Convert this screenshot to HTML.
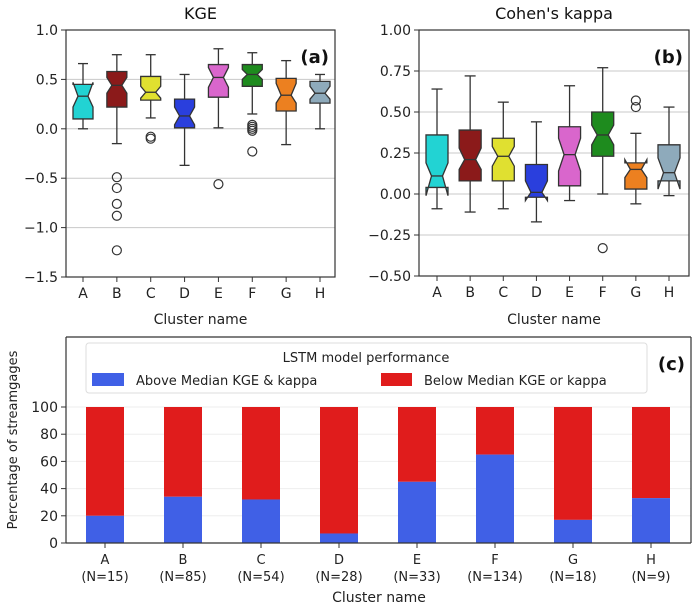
<!DOCTYPE html>
<html><head><meta charset="utf-8">
<style>
body{margin:0;background:#fff;}
svg{display:block;font-family:"DejaVu Sans","Liberation Sans",sans-serif;}
</style></head>
<body>
<svg id="fig" width="692" height="606" viewBox="0 0 692 606" xmlns="http://www.w3.org/2000/svg"></svg>
<script>
const categories = ["A","B","C","D","E","F","G","H"];
const colors = ["#22d3d3","#8b1a1a","#e0e030","#2a3fdd","#d966cc","#1e8b1e","#ec8020","#8eaabb"];
// KGE: [whiskerLow, q1, notchLow, median, notchHigh, q3, whiskerHigh]
const kgeStats = [
 [0.0,0.10,0.22,0.33,0.47,0.45,0.66],
 [-0.15,0.22,0.36,0.44,0.52,0.58,0.75],
 [0.11,0.29,0.31,0.37,0.43,0.53,0.75],
 [-0.37,0.01,0.04,0.13,0.22,0.30,0.55],
 [0.01,0.32,0.42,0.52,0.62,0.65,0.81],
 [0.15,0.43,0.50,0.55,0.60,0.65,0.77],
 [-0.16,0.18,0.26,0.34,0.46,0.51,0.69],
 [0.0,0.26,0.30,0.36,0.43,0.48,0.55]
];
const kgeOutliers = [[],[-0.49,-0.6,-0.76,-0.88,-1.23],[-0.08,-0.1],[],[-0.56],[0.04,0.02,0.0,-0.02,-0.23],[],[]];
const kgeTicks = [1.0,0.5,0.0,-0.5,-1.0,-1.5];
const kgeTickLabels = ["1.0","0.5","0.0","\u22120.5","\u22121.0","\u22121.5"];
const kappaStats = [
 [-0.09,0.04,-0.01,0.11,0.19,0.36,0.64],
 [-0.11,0.08,0.15,0.21,0.28,0.39,0.72],
 [-0.09,0.08,0.17,0.23,0.29,0.34,0.56],
 [-0.17,-0.02,-0.04,0.01,0.08,0.18,0.44],
 [-0.04,0.05,0.14,0.24,0.34,0.41,0.66],
 [0.0,0.23,0.30,0.36,0.42,0.50,0.77],
 [-0.06,0.03,0.10,0.15,0.21,0.19,0.37],
 [-0.01,0.08,0.03,0.13,0.22,0.30,0.53]
];
const kappaOutliers = [[],[],[],[],[],[-0.33],[0.53,0.57],[]];
const kappaTicks = [1.0,0.75,0.5,0.25,0.0,-0.25,-0.5];
const kappaTickLabels = ["1.00","0.75","0.50","0.25","0.00","\u22120.25","\u22120.50"];
const barLabels = ["(N=15)","(N=85)","(N=54)","(N=28)","(N=33)","(N=134)","(N=18)","(N=9)"];
const aboveValues = [20,34,32,7,45,65,17,33];
const pctTicks = [0,20,40,60,80,100];

const NS="http://www.w3.org/2000/svg";
const svg=document.getElementById('fig');
function el(tag,attrs,parent,text){const e=document.createElementNS(NS,tag);for(const k in attrs)e.setAttribute(k,attrs[k]);if(text!==undefined)e.textContent=text;(parent||svg).appendChild(e);return e;}

function boxPanel(cfg){
  const g=el('g',{});
  
  
  const {L,R,T,B,ymin,ymax}=cfg;
  const y=v=>B-(v-ymin)/(ymax-ymin)*(B-T);
  const step=(cfg.xLast-cfg.xFirst)/(categories.length-1);
  const x=i=>cfg.xFirst+i*step;
  cfg.ticks.forEach((t,i)=>{
    const gl=el('line',{x1:L,x2:R,y1:y(t),y2:y(t),stroke:'#c8c8c8','stroke-width':1},g);
    
    
    el('line',{x1:L-5,x2:L,y1:y(t),y2:y(t),stroke:'#333'},g);
    const tl=el('text',{x:L-8,y:y(t)+5,'text-anchor':'end','font-size':14,fill:'#222'},g,cfg.tickLabels[i]);
    
    
  });
  const w=cfg.bw/2;
  cfg.stats.forEach((s,i)=>{
    const cx=x(i);
    const [wl,q1,nl,md,nh,q3,wh]=s;
    el('line',{x1:cx,x2:cx,y1:y(wl),y2:y(q1),stroke:'#333','stroke-width':1.3},g);
    el('line',{x1:cx,x2:cx,y1:y(q3),y2:y(wh),stroke:'#333','stroke-width':1.3},g);
    el('line',{x1:cx-w/2,x2:cx+w/2,y1:y(wl),y2:y(wl),stroke:'#333','stroke-width':1.3},g);
    el('line',{x1:cx-w/2,x2:cx+w/2,y1:y(wh),y2:y(wh),stroke:'#333','stroke-width':1.3},g);
    const pts=[[cx-w,q1],[cx-w,nl],[cx-w/2,md],[cx-w,nh],[cx-w,q3],[cx+w,q3],[cx+w,nh],[cx+w/2,md],[cx+w,nl],[cx+w,q1]].map(p=>p[0]+','+y(p[1])).join(' ');
    const b=el('polygon',{points:pts,fill:colors[i],stroke:'#333','stroke-width':1.3},g);
    
    
    el('line',{x1:cx-w/2,x2:cx+w/2,y1:y(md),y2:y(md),stroke:'#333','stroke-width':1.3},g);
    cfg.outliers[i].forEach(o=>{
      const c=el('circle',{cx:cx,cy:y(o),r:4.5,fill:'none',stroke:'#333','stroke-width':1.2},g);
      
      
    });
    el('line',{x1:cx,x2:cx,y1:B,y2:B+5,stroke:'#333'},g);
    const xl=el('text',{x:cx,y:B+21,'text-anchor':'middle','font-size':14,fill:'#222'},g,categories[i]);
    
    
  });
  el('rect',{x:L,y:T,width:R-L,height:B-T,fill:'none',stroke:'#333','stroke-width':1.2},g);
  const t=el('text',{x:(L+R)/2,y:19,'text-anchor':'middle','font-size':16,fill:'#111'},g,cfg.title);
  
  
  const p=el('text',{x:R-6,y:T+33,'text-anchor':'end','font-size':18,'font-weight':'bold',fill:'#111'},g,cfg.tag);
  
  
  const xt=el('text',{x:(L+R)/2,y:324,'text-anchor':'middle','font-size':14,fill:'#222'},g,'Cluster name');
  
  
}
boxPanel({name:'kge-panel',L:66,R:335,T:30,B:277,ymin:-1.5,ymax:1.0,xFirst:83,xLast:320,bw:20,stats:kgeStats,outliers:kgeOutliers,ticks:kgeTicks,tickLabels:kgeTickLabels,title:'KGE',tag:'(a)'});
boxPanel({name:'kappa-panel',L:419,R:689,T:30,B:276,ymin:-0.5,ymax:1.0,xFirst:437,xLast:669,bw:22,stats:kappaStats,outliers:kappaOutliers,ticks:kappaTicks,tickLabels:kappaTickLabels,title:"Cohen's kappa",tag:'(b)'});

// Panel c
(function(){
  const g=el('g',{});
  
  
  const L=66,R=691,T=337,B=543,top100=407;
  const y=v=>B-v/100*(B-top100);
  const x=i=>105+i*78;
  pctTicks.forEach(t=>{
    el('line',{x1:L,x2:R,y1:y(t),y2:y(t),stroke:'#eeeeee'},g);
    el('line',{x1:L-5,x2:L,y1:y(t),y2:y(t),stroke:'#333'},g);
    const tl=el('text',{x:L-8,y:y(t)+5,'text-anchor':'end','font-size':14,fill:'#222'},g,String(t));
    
    
  });
  const bw=38;
  aboveValues.forEach((v,i)=>{
    const cx=x(i);
    const r=el('rect',{x:cx-bw/2,y:y(100),width:bw,height:y(v)-y(100),fill:'#e01c1c'},g);
    
    
    const b=el('rect',{x:cx-bw/2,y:y(v),width:bw,height:B-y(v),fill:'#4060e6'},g);
    
    
    el('line',{x1:cx,x2:cx,y1:B,y2:B+5,stroke:'#333'},g);
    const t1=el('text',{x:cx,y:B+21,'text-anchor':'middle','font-size':13,fill:'#222'},g,categories[i]);
    
    
    const t2=el('text',{x:cx,y:B+38,'text-anchor':'middle','font-size':13,fill:'#222'},g,barLabels[i]);
    
    
  });
  el('line',{x1:L,x2:L,y1:T,y2:B,stroke:'#333','stroke-width':1.2},g);
  el('line',{x1:L,x2:R,y1:T,y2:T,stroke:'#333','stroke-width':1.2},g);
  el('line',{x1:L,x2:R,y1:B,y2:B,stroke:'#333','stroke-width':1.2},g);
  el('line',{x1:R,x2:R,y1:T,y2:B,stroke:'#333','stroke-width':1.2},g);
  const lg=el('g',{},g);
  
  
  el('rect',{x:86,y:343,width:561,height:50,rx:3,fill:'#fff',stroke:'#ddd'},lg);
  el('text',{x:366,y:362,'text-anchor':'middle','font-size':13,fill:'#222'},lg,'LSTM model performance');
  el('rect',{x:92,y:373,width:32,height:13,fill:'#4060e6'},lg);
  el('text',{x:136,y:385,'font-size':13,fill:'#222'},lg,'Above Median KGE & kappa');
  el('rect',{x:381,y:373,width:31,height:13,fill:'#e01c1c'},lg);
  el('text',{x:424,y:385,'font-size':13,fill:'#222'},lg,'Below Median KGE or kappa');
  const p=el('text',{x:685,y:370,'text-anchor':'end','font-size':18,'font-weight':'bold',fill:'#111'},g,'(c)');
  
  
  const xt=el('text',{x:379,y:602,'text-anchor':'middle','font-size':14,fill:'#222'},g,'Cluster name');
  
  
  const yt=el('text',{x:0,y:0,'text-anchor':'middle','font-size':13,fill:'#222',transform:'translate(17,440) rotate(-90)'},g,'Percentage of streamgages');
  
  
})();
</script>
</body></html>
